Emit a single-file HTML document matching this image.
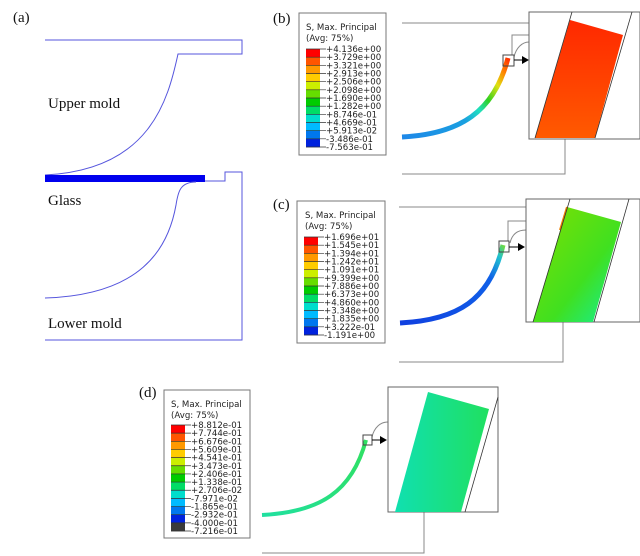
<!DOCTYPE html>
<html><head><meta charset="utf-8">
<style>
body{margin:0;background:#fff;}
svg{display:block;}
.lbl{font-family:"Liberation Serif",serif;font-size:15px;fill:#111;}
.leg{font-family:"DejaVu Sans","Liberation Sans",sans-serif;font-size:8.6px;fill:#222;}
</style></head>
<body>
<svg id="fig" width="640" height="556" viewBox="0 0 640 556" xmlns="http://www.w3.org/2000/svg">
<defs>
<linearGradient id="gb" gradientUnits="userSpaceOnUse" x1="402" y1="137" x2="510" y2="57">
<stop offset="0" stop-color="#1e88e8"/><stop offset="0.45" stop-color="#1aa0e0"/><stop offset="0.58" stop-color="#20e0c0"/><stop offset="0.68" stop-color="#30d020"/><stop offset="0.8" stop-color="#e0e010"/><stop offset="0.9" stop-color="#ff8000"/><stop offset="1" stop-color="#ff2000"/>
</linearGradient>
<linearGradient id="gc" gradientUnits="userSpaceOnUse" x1="400" y1="323" x2="505" y2="243">
<stop offset="0" stop-color="#1040e0"/><stop offset="0.75" stop-color="#1060e8"/><stop offset="0.9" stop-color="#20c0d0"/><stop offset="1" stop-color="#80e020"/>
</linearGradient>
<linearGradient id="gd" gradientUnits="userSpaceOnUse" x1="262" y1="515" x2="368" y2="438">
<stop offset="0" stop-color="#20e0a0"/><stop offset="1" stop-color="#30e060"/>
</linearGradient>
<linearGradient id="ic" x1="0" y1="0" x2="1" y2="1">
<stop offset="0" stop-color="#80e000"/><stop offset="0.6" stop-color="#40e020"/><stop offset="1" stop-color="#10f0a0"/>
</linearGradient>
<linearGradient id="id" x1="0" y1="0" x2="1" y2="0">
<stop offset="0" stop-color="#10e0b0"/><stop offset="1" stop-color="#20e060"/>
</linearGradient>
<linearGradient id="ib" x1="0" y1="0" x2="0" y2="1">
<stop offset="0" stop-color="#ff2800"/><stop offset="1" stop-color="#ff5a00"/>
</linearGradient>
</defs>

<!-- Panel a -->
<g>
<text class="lbl" x="13" y="22">(a)</text>
<path d="M45,40 L242,40 L242,54 L178,54 C168,100 150,170 45,175" fill="none" stroke="#5555dd" stroke-width="1"/>
<rect x="45" y="175" width="160" height="7" fill="#0000ee"/>
<path d="M205,181 L225,181 L225,172 L242,172 L242,340 L45,340" fill="none" stroke="#5555dd" stroke-width="1"/>
<path d="M196,182 C180,182 178,192 176,205 C168,250 140,295 45,298" fill="none" stroke="#5555dd" stroke-width="1"/>
<text class="lbl" x="48" y="108">Upper mold</text>
<text class="lbl" x="48" y="205">Glass</text>
<text class="lbl" x="48" y="328">Lower mold</text>
</g>

<!-- Panel b -->
<g>
<text class="lbl" x="273" y="23">(b)</text>
<rect x="299" y="13" width="87" height="142" fill="#fff" stroke="#777"/>
<text class="leg" x="306" y="30">S, Max. Principal</text>
<text class="leg" x="306" y="41">(Avg: 75%)</text>
<g id="cbb"></g>
<path d="M402,23 L529,23 M402,174 L565,174 L565,139 M512,55 L512,35 L529,35" fill="none" stroke="#888" stroke-width="1"/>
<path d="M514,57 C516,48 522,42 529,42" fill="none" stroke="#888" stroke-width="1"/>
<path d="M402,137 C460,134 494,112 508,58" fill="none" stroke="url(#gb)" stroke-width="5"/>
<rect x="503" y="55" width="11" height="11" fill="none" stroke="#444"/>
<path d="M514,60 L523,60" stroke="#000"/><path d="M522,56 L529,60 L522,64Z" fill="#000"/>
<rect x="529" y="12" width="111" height="127" fill="#fff" stroke="#666"/>
<polygon points="570,20 623,35 595,138 535,138" fill="url(#ib)"/>
<path d="M572,12 L535,138 M632,12 L595,138" stroke="#333" stroke-width="0.8"/>
</g>

<!-- Panel c -->
<g>
<text class="lbl" x="273" y="209">(c)</text>
<rect x="297" y="201" width="88" height="142" fill="#fff" stroke="#777"/>
<text class="leg" x="305" y="218">S, Max. Principal</text>
<text class="leg" x="305" y="229">(Avg: 75%)</text>
<g id="cbc"></g>
<path d="M399,207 L526,207 M399,362 L563,362 L563,322 M508,241 L508,221 L526,221" fill="none" stroke="#888" stroke-width="1"/>
<path d="M510,243 C512,234 518,230 526,230" fill="none" stroke="#888" stroke-width="1"/>
<path d="M400,323 C458,320 490,300 503,245" fill="none" stroke="url(#gc)" stroke-width="5"/>
<rect x="499" y="241" width="10" height="11" fill="none" stroke="#444"/>
<path d="M509,247 L519,247" stroke="#000"/><path d="M518,243 L525,247 L518,251Z" fill="#000"/>
<rect x="526" y="199" width="114" height="123" fill="#fff" stroke="#666"/>
<polygon points="567,207 621,222 593,322 533,322" fill="url(#ic)"/>
<path d="M567,207 L560,230" stroke="#f08000" stroke-width="2"/>
<path d="M570,199 L533,322 M629,199 L594,322" stroke="#333" stroke-width="0.8"/>
</g>

<!-- Panel d -->
<g>
<text class="lbl" x="139" y="397">(d)</text>
<rect x="164" y="390" width="86" height="148" fill="#fff" stroke="#777"/>
<text class="leg" x="171" y="407">S, Max. Principal</text>
<text class="leg" x="171" y="418">(Avg: 75%)</text>
<g id="cbd"></g>
<path d="M262,553 L424,553 L424,512" fill="none" stroke="#888" stroke-width="1"/>
<path d="M372,437 C374,428 380,422 388,422" fill="none" stroke="#888" stroke-width="1"/>
<path d="M262,515 C320,512 352,492 366,440" fill="none" stroke="url(#gd)" stroke-width="4"/>
<rect x="363" y="435" width="9" height="10" fill="none" stroke="#444"/>
<path d="M372,440 L381,440" stroke="#000"/><path d="M380,436 L387,440 L380,444Z" fill="#000"/>
<rect x="388" y="387" width="110" height="125" fill="#fff" stroke="#666"/>
<polygon points="428,392 489,409 461,512 395,512" fill="url(#id)"/>
<path d="M498,397 L465,512" stroke="#333" stroke-width="0.8"/>
</g>
</svg>
<script>
const labelsB = ["+4.136e+00","+3.729e+00","+3.321e+00","+2.913e+00","+2.506e+00","+2.098e+00","+1.690e+00","+1.282e+00","+8.746e-01","+4.669e-01","+5.913e-02","-3.486e-01","-7.563e-01"];
const labelsC = ["+1.696e+01","+1.545e+01","+1.394e+01","+1.242e+01","+1.091e+01","+9.399e+00","+7.886e+00","+6.373e+00","+4.860e+00","+3.348e+00","+1.835e+00","+3.222e-01","-1.191e+00"];
const labelsD = ["+8.812e-01","+7.744e-01","+6.676e-01","+5.609e-01","+4.541e-01","+3.473e-01","+2.406e-01","+1.338e-01","+2.706e-02","-7.971e-02","-1.865e-01","-2.932e-01","-4.000e-01","-7.216e-01"];
const bandColors = ["#ff0000","#ff5500","#ff9900","#ffcc00","#ccee00","#66dd00","#00cc00","#00dd66","#00ddcc","#00bbff","#0077ee","#0022dd"];
const bandColorsD = bandColors.concat(["#3a3a3a"]);
const NS="http://www.w3.org/2000/svg";
function colorbar(id,x,y0,y1,labels,colors,lx){
  const g=document.getElementById(id);
  const n=labels.length-1, h=(y1-y0)/n;
  colors.slice(0,n).forEach((c,i)=>{
    const r=document.createElementNS(NS,'rect');
    r.setAttribute('x',x);r.setAttribute('y',y0+i*h);r.setAttribute('width',14);r.setAttribute('height',h+0.3);r.setAttribute('fill',c);
    
    
    g.appendChild(r);
  });
  labels.forEach((l,i)=>{
    const yy=y0+i*h;
    const ln=document.createElementNS(NS,'line');
    ln.setAttribute('x1',x);ln.setAttribute('x2',x+20);ln.setAttribute('y1',yy);ln.setAttribute('y2',yy);ln.setAttribute('stroke','#333');ln.setAttribute('stroke-width','0.7');
    g.appendChild(ln);
    const t=document.createElementNS(NS,'text');
    t.setAttribute('class','leg');t.setAttribute('x',lx);t.setAttribute('y',yy+3);
    t.textContent=l;
    
    
    g.appendChild(t);
  });
}
colorbar('cbb',306,49,147,labelsB,bandColors,326);
colorbar('cbc',304,237,335,labelsC,bandColors,324);
colorbar('cbd',171,425,531,labelsD,bandColorsD,191);
</script>
</body></html>
